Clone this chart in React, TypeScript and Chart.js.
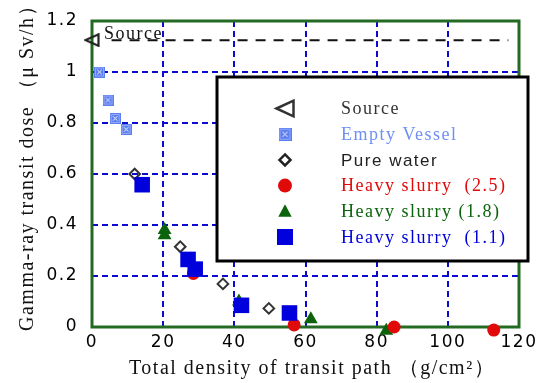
import React, { useEffect, useRef } from 'react';
import { Chart, registerables } from 'chart.js';

Chart.register(...registerables);

// ---- data ----
const xTickValues = [0, 20, 40, 60, 80, 100, 120];
const yTickValues = [0, 0.2, 0.4, 0.6, 0.8, 1.0, 1.2];

const sourceX = [0];
const sourceY = [1.125];
const sourceLineX = [5.5, 117];
const sourceLineY = [1.125, 1.125];

const emptyX = [2.1, 4.5, 6.5, 9.6];
const emptyY = [1.0, 0.89, 0.818, 0.775];

const waterX = [12.0, 24.8, 36.8, 49.7];
const waterY = [0.6, 0.315, 0.169, 0.073];

const slurry25X = [28.5, 56.8, 84.9, 112.9];
const slurry25Y = [0.21, 0.008, 0.0, -0.012];

const slurry18X = [20.4, 20.4, 41.3, 61.5, 82.7];
const slurry18Y = [0.38, 0.36, 0.1, 0.03, -0.015];

const slurry11X = [14.1, 27.0, 29.0, 42.0, 55.5];
const slurry11Y = [0.558, 0.265, 0.227, 0.085, 0.055];

const legendLabels = [
  'Source',
  'Empty Vessel',
  'Pure water',
  'Heavy slurry  (2.5)',
  'Heavy slurry (1.8)',
  'Heavy slurry  (1.1)',
];

const xTitle = 'Total density of transit path （g/cm²）';
const yTitle = 'Gamma-ray transit dose （μ Sv/h）';
const sourceLabel = 'Source';

// ---- styles ----
const EMPTY_COLOR = '#5b7ef2';
const RED = '#e00a0a';
const GREEN = '#0b640b';
const BLUE = '#0000dc';
const GRID_BLUE = '#0a0ad0';
const FRAME_GREEN = '#236b23';
const SERIF = '"Liberation Serif", "Times New Roman", serif';
const SANS = '"Liberation Sans", Arial, sans-serif';

const pts = (xs: number[], ys: number[]) => xs.map((x, i) => ({ x, y: ys[i] }));

function makeEmptyIcon(size: number): HTMLCanvasElement {
  const c = document.createElement('canvas');
  c.width = size;
  c.height = size;
  const g = c.getContext('2d')!;
  g.fillStyle = EMPTY_COLOR;
  g.fillRect(0, 0, size, size);
  g.strokeStyle = 'rgba(255,255,255,0.35)';
  g.lineWidth = 1;
  g.strokeRect(1.5, 1.5, size - 3, size - 3);
  g.strokeStyle = 'rgba(255,255,255,0.95)';
  const m = size * 0.3;
  g.beginPath();
  g.moveTo(m, m);
  g.lineTo(size - m, size - m);
  g.moveTo(size - m, m);
  g.lineTo(m, size - m);
  g.stroke();
  return c;
}

function makeTriangleIcon(w: number, h: number): HTMLCanvasElement {
  const c = document.createElement('canvas');
  c.width = w;
  c.height = h;
  const g = c.getContext('2d')!;
  g.strokeStyle = '#222';
  g.lineWidth = 2.2;
  g.lineJoin = 'miter';
  g.beginPath();
  g.moveTo(1.5, h / 2);
  g.lineTo(w - 1.5, 1.3);
  g.lineTo(w - 1.5, h - 1.3);
  g.closePath();
  g.stroke();
  return c;
}

export default function App() {
  const ref = useRef<HTMLCanvasElement | null>(null);

  useEffect(() => {
    document.body.style.margin = '0';
    const canvas = ref.current!;
    const emptyIcon = makeEmptyIcon(11);
    const triIcon = makeTriangleIcon(16, 14);

    const framePlugin = {
      id: 'frame',
      beforeDraw(chart: any) {
        chart.ctx.letterSpacing = '1.5px';
      },
      beforeDatasetsDraw(chart: any) {
        const { ctx, chartArea: a } = chart;
        ctx.save();
        ctx.strokeStyle = FRAME_GREEN;
        ctx.lineWidth = 3;
        ctx.strokeRect(a.left, a.top, a.right - a.left, a.bottom - a.top);
        ctx.restore();
      },
      afterDraw(chart: any) {
        const ctx = chart.ctx;
        ctx.save();
        ctx.letterSpacing = '1.5px';

        // axis titles
        ctx.font = `20px ${SERIF}`;
        ctx.fillStyle = '#111';
        ctx.textAlign = 'left';
        ctx.textBaseline = 'alphabetic';
        ctx.fillText(xTitle, 129, 374);
        ctx.save();
        ctx.translate(33, 331);
        ctx.rotate(-Math.PI / 2);
        ctx.fillText(yTitle, 0, 0);
        ctx.restore();

        // "Source" label
        ctx.font = `18px ${SERIF}`;
        ctx.fillStyle = '#111';
        ctx.fillText(sourceLabel, 104, 39);

        // legend box
        const L = 217, T = 77, R = 528, B = 261;
        ctx.fillStyle = '#fff';
        ctx.fillRect(L, T, R - L, B - T);
        ctx.strokeStyle = '#000';
        ctx.lineWidth = 3;
        ctx.strokeRect(L, T, R - L, B - T);

        const sx = 285;
        const tx = 341;
        const colors = ['#333', '#6f8ff5', '#222', RED, GREEN, BLUE];
        const fonts = [
          `18px ${SERIF}`,
          `18px ${SERIF}`,
          `17px ${SANS}`,
          `18px ${SERIF}`,
          `18px ${SERIF}`,
          `18px ${SERIF}`,
        ];
        legendLabels.forEach((label, i) => {
          const y = 108.5 + i * 25.7;
          if (i === 0) {
            ctx.strokeStyle = '#333';
            ctx.lineWidth = 2.5;
            ctx.beginPath();
            ctx.moveTo(sx - 8.5, y);
            ctx.lineTo(sx + 8.5, y - 7.8);
            ctx.lineTo(sx + 8.5, y + 7.8);
            ctx.closePath();
            ctx.stroke();
          } else if (i === 1) {
            const ic = makeEmptyIcon(13);
            ctx.drawImage(ic, sx - 6.5, y - 6.5);
          } else if (i === 2) {
            ctx.strokeStyle = '#222';
            ctx.lineWidth = 2.5;
            ctx.beginPath();
            ctx.moveTo(sx, y - 5.5);
            ctx.lineTo(sx + 5.5, y);
            ctx.lineTo(sx, y + 5.5);
            ctx.lineTo(sx - 5.5, y);
            ctx.closePath();
            ctx.stroke();
          } else if (i === 3) {
            ctx.fillStyle = RED;
            ctx.beginPath();
            ctx.arc(sx, y, 7, 0, Math.PI * 2);
            ctx.fill();
          } else if (i === 4) {
            ctx.fillStyle = GREEN;
            ctx.beginPath();
            ctx.moveTo(sx, y - 7);
            ctx.lineTo(sx + 6.7, y + 5.5);
            ctx.lineTo(sx - 6.7, y + 5.5);
            ctx.closePath();
            ctx.fill();
          } else {
            ctx.fillStyle = BLUE;
            ctx.fillRect(sx - 8, y - 8, 16, 16);
          }
          ctx.font = fonts[i];
          ctx.fillStyle = colors[i];
          ctx.textAlign = 'left';
          ctx.textBaseline = 'middle';
          ctx.fillText(label, tx, y + 1);
        });
        ctx.restore();
        ctx.letterSpacing = '0px';
      },
    };

    const gridColor = (c: any) =>
      c.index === 0 || c.index === c.chart.scales[c.scale.id].ticks.length - 1 ? 'rgba(0,0,0,0)' : GRID_BLUE;

    const chart = new Chart(canvas, {
      type: 'scatter',
      data: {
        datasets: [
          {
            label: legendLabels[5],
            data: pts(slurry11X, slurry11Y),
            pointStyle: 'rect',
            pointRadius: 11,
            backgroundColor: BLUE,
            borderColor: BLUE,
            borderWidth: 0,
            clip: false,
          },
          {
            label: legendLabels[3],
            data: pts(slurry25X, slurry25Y),
            pointStyle: 'circle',
            pointRadius: 6.5,
            backgroundColor: RED,
            borderColor: RED,
            borderWidth: 0,
            clip: false,
          },
          {
            label: legendLabels[4],
            data: pts(slurry18X, slurry18Y),
            pointStyle: 'triangle',
            pointRadius: 8,
            backgroundColor: GREEN,
            borderColor: GREEN,
            borderWidth: 0,
            clip: false,
          },
          {
            label: legendLabels[2],
            data: pts(waterX, waterY),
            pointStyle: 'rectRot',
            pointRadius: 5.3,
            backgroundColor: 'rgba(0,0,0,0)',
            borderColor: '#333',
            borderWidth: 2,
            clip: false,
          },
          {
            label: legendLabels[1],
            data: pts(emptyX, emptyY),
            pointStyle: emptyIcon as any,
            clip: false,
          },
          {
            label: legendLabels[0],
            data: pts(sourceX, sourceY),
            pointStyle: triIcon as any,
            clip: false,
          },
          {
            type: 'line' as any,
            label: 'source-line',
            data: pts(sourceLineX, sourceLineY),
            showLine: true,
            pointRadius: 0,
            borderColor: '#111',
            borderWidth: 2,
            borderDash: [10, 8],
            fill: false,
            clip: false,
          } as any,
        ],
      },
      options: {
        animation: false,
        responsive: false,
        devicePixelRatio: 1,
        layout: { padding: { top: 21, right: 19, left: 0, bottom: 0 } },
        plugins: {
          legend: { display: false },
          tooltip: { enabled: false },
        },
        scales: {
          x: {
            type: 'linear',
            min: 0,
            max: 120,
            afterBuildTicks: (s: any) => {
              s.ticks = xTickValues.map((v) => ({ value: v }));
            },
            afterFit: (s: any) => {
              s.height = 56;
              s.paddingLeft = 0;
              s.paddingRight = 0;
            },
            ticks: {
              autoSkip: false,
              maxRotation: 0,
              padding: 5,
              color: '#000',
              font: { family: '"DejaVu Sans", sans-serif', size: 17 },
              callback: (v: any) => String(v),
            },
            grid: { color: gridColor, lineWidth: 2, drawTicks: false },
            border: { display: false, dash: [6, 4] },
            title: { display: false },
          },
          y: {
            type: 'linear',
            min: 0,
            max: 1.2,
            afterBuildTicks: (s: any) => {
              s.ticks = yTickValues.map((v) => ({ value: v }));
            },
            afterFit: (s: any) => {
              s.width = 92;
              s.paddingTop = 0;
              s.paddingBottom = 0;
            },
            ticks: {
              padding: 14,
              color: '#000',
              font: { family: '"DejaVu Sans", sans-serif', size: 17 },
              callback: (v: any) => String(Number(Number(v).toFixed(1))),
            },
            grid: { color: gridColor, lineWidth: 2, drawTicks: false },
            border: { display: false, dash: [6, 4] },
            title: { display: false },
          },
        },
      },
      plugins: [framePlugin],
    } as any);

    return () => chart.destroy();
  }, []);

  return (
    <div style={{ position: 'fixed', left: 0, top: 0, width: 538, height: 383, background: '#fff' }}>
      <canvas ref={ref} width={538} height={383} style={{ display: 'block', width: 538, height: 383 }} />
    </div>
  );
}
